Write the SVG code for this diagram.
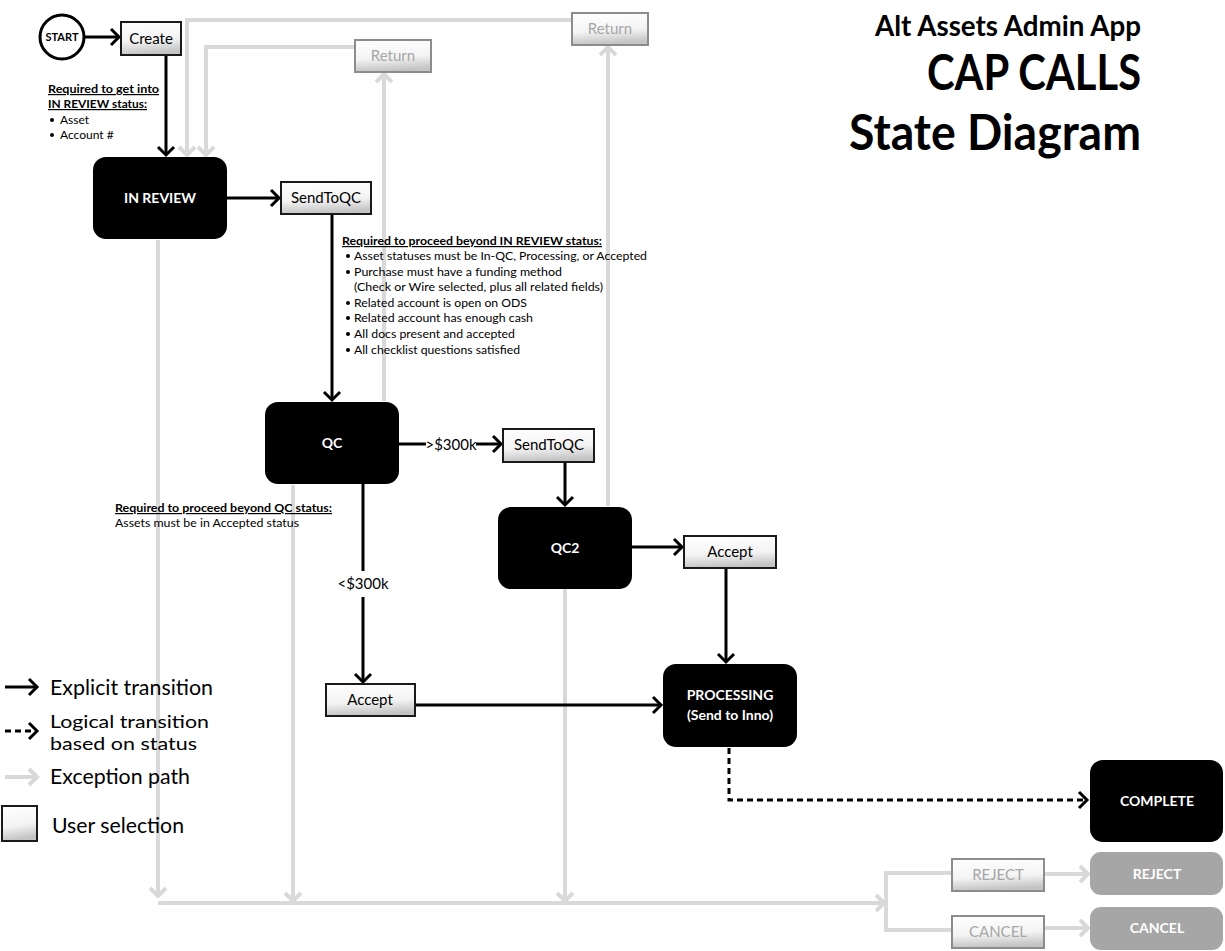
<svg xmlns="http://www.w3.org/2000/svg" width="1225" height="951" viewBox="0 0 1225 951">
<style>
text{font-family:Lato,"Open Sans","Liberation Sans",sans-serif}
.sl{fill:#fff;font-weight:bold;font-size:14px;text-anchor:middle}
.btn{fill:url(#bg);stroke:#1a1a1a;stroke-width:2}
.gbtn{fill:url(#bg);stroke:#8c8c8c;stroke-width:2}
.bt{font-size:15px;fill:#000;text-anchor:middle}
.gbt{font-size:15px;fill:#a6a6a6;text-anchor:middle}
.bk{fill:none;stroke:#000;stroke-width:3}
.gr{fill:none;stroke:#d9d9d9;stroke-width:4}
.dsh{fill:none;stroke:#000;stroke-width:3;stroke-dasharray:6 4}
.nt{font-size:12px;fill:#000}
.nh{font-size:12px;font-weight:bold;text-decoration:underline;fill:#000}
.lg{font-size:21px;fill:#000}
.lg2{font-size:18px;fill:#000}
.ttl{font-weight:bold;fill:#000;text-anchor:end}
</style>
<defs>
<linearGradient id="bg" x1="0" y1="0" x2="0.15" y2="1">
<stop offset="0" stop-color="#ffffff"/>
<stop offset="0.6" stop-color="#f4f4f4"/>
<stop offset="1" stop-color="#c4c4c4"/>
</linearGradient>
<marker id="ab" viewBox="-10 -10 14 20" refX="0" refY="0" markerWidth="14" markerHeight="20" orient="auto" markerUnits="userSpaceOnUse" overflow="visible">
<path d="M-8,-8 L0,0 L-8,8" fill="none" stroke="#000" stroke-width="3"/>
</marker>
<marker id="ag" viewBox="-10 -10 14 20" refX="0" refY="0" markerWidth="14" markerHeight="20" orient="auto" markerUnits="userSpaceOnUse" overflow="visible">
<path d="M-8,-8 L0,0 L-8,8" fill="none" stroke="#d9d9d9" stroke-width="4"/>
</marker>
</defs>
<rect width="1225" height="951" fill="#fff"/>

<g id="title">
<text class="ttl" x="1141" y="36" font-size="28" textLength="266" lengthAdjust="spacingAndGlyphs">Alt Assets Admin App</text>
<text class="ttl" x="1141" y="90" font-size="49" textLength="214" lengthAdjust="spacingAndGlyphs">CAP CALLS</text>
<text class="ttl" x="1141" y="150" font-size="49" textLength="292" lengthAdjust="spacingAndGlyphs">State Diagram</text>
</g>

<g id="connectors">
<path class="gr" d="M572,20 H187 V155" marker-end="url(#ag)"/>
<path class="gr" d="M355,47 H206 V155" marker-end="url(#ag)"/>
<path class="gr" d="M608,506 V47" marker-end="url(#ag)"/>
<path class="gr" d="M384,401 V74" marker-end="url(#ag)"/>
<path class="gr" d="M158,240 V896" marker-end="url(#ag)"/>
<path class="gr" d="M293,485 V901" marker-end="url(#ag)"/>
<path class="gr" d="M565,589 V901" marker-end="url(#ag)"/>
<path class="gr" d="M158,903 H884" marker-end="url(#ag)"/>
<path class="gr" d="M952,873 H886 V930 H952"/>
<path class="gr" d="M1044,874 H1088" marker-end="url(#ag)"/>
<path class="gr" d="M1044,928 H1088" marker-end="url(#ag)"/>
<path class="bk" d="M85,37 H119" marker-end="url(#ab)"/>
<path class="bk" d="M166,55 V155" marker-end="url(#ab)"/>
<path class="bk" d="M227,198 H279" marker-end="url(#ab)"/>
<path class="bk" d="M332,215 V400" marker-end="url(#ab)"/>
<path class="bk" d="M399,444 H426"/>
<path class="bk" d="M476,444 H501" marker-end="url(#ab)"/>
<text x="451" y="450" font-size="15" text-anchor="middle" fill="#000">&gt;$300k</text>
<path class="bk" d="M565,463 V505" marker-end="url(#ab)"/>
<path class="bk" d="M632,547 H682" marker-end="url(#ab)"/>
<path class="bk" d="M726,568 V662" marker-end="url(#ab)"/>
<path class="bk" d="M363,484 V571"/>
<text x="363" y="589" font-size="15" text-anchor="middle" fill="#000">&lt;$300k</text>
<path class="bk" d="M363,597 V682" marker-end="url(#ab)"/>
<path class="bk" d="M416,705 H661" marker-end="url(#ab)"/>
<path class="dsh" d="M729,748 V800 H1087" marker-end="url(#ab)"/>
</g>

<g id="start">
<circle cx="62" cy="37" r="22" fill="#fff" stroke="#000" stroke-width="3"/>
<text x="62" y="41" font-size="11" font-weight="bold" text-anchor="middle" fill="#000">START</text>
</g>
<g id="btn-create">
<rect class="btn" x="121" y="22" width="60" height="33"/>
<text class="bt" x="151" y="44">Create</text>
</g>
<g id="btn-return1">
<rect class="gbtn" x="572" y="13" width="76" height="32"/>
<text class="gbt" x="610" y="34">Return</text>
</g>
<g id="btn-return2">
<rect class="gbtn" x="355" y="40" width="76" height="32"/>
<text class="gbt" x="393" y="61">Return</text>
</g>
<g id="inreview">
<rect x="93" y="157" width="134" height="82" rx="13" fill="#000"/>
<text class="sl" x="160" y="203">IN REVIEW</text>
</g>
<g id="btn-sendtoqc1">
<rect class="btn" x="281" y="182" width="90" height="32"/>
<text class="bt" x="326" y="203">SendToQC</text>
</g>
<g id="qc">
<rect x="265" y="402" width="134" height="82" rx="13" fill="#000"/>
<text class="sl" x="332" y="448">QC</text>
</g>
<g id="btn-sendtoqc2">
<rect class="btn" x="503" y="429" width="91" height="33"/>
<text class="bt" x="549" y="450">SendToQC</text>
</g>
<g id="qc2">
<rect x="498" y="507" width="134" height="82" rx="13" fill="#000"/>
<text class="sl" x="565" y="553">QC2</text>
</g>
<g id="btn-accept2">
<rect class="btn" x="684" y="536" width="92" height="32"/>
<text class="bt" x="730" y="557">Accept</text>
</g>
<g id="btn-accept1">
<rect class="btn" x="326" y="684" width="89" height="32"/>
<text class="bt" x="370" y="705">Accept</text>
</g>
<g id="processing">
<rect x="663" y="664" width="134" height="83" rx="13" fill="#000"/>
<text class="sl" x="730" y="700">PROCESSING</text>
<text class="sl" x="730" y="720">(Send to Inno)</text>
</g>
<g id="complete">
<rect x="1090" y="760" width="133" height="82" rx="13" fill="#000"/>
<text class="sl" x="1157" y="806">COMPLETE</text>
</g>
<g id="btn-reject">
<rect class="gbtn" x="952" y="859" width="92" height="32"/>
<text class="gbt" x="998" y="880">REJECT</text>
</g>
<g id="btn-cancel">
<rect class="gbtn" x="952" y="916" width="92" height="32"/>
<text class="gbt" x="998" y="937">CANCEL</text>
</g>
<g id="reject">
<rect x="1090" y="852" width="133" height="43" rx="11" fill="#a6a6a6"/>
<text class="sl" x="1157" y="879">REJECT</text>
</g>
<g id="cancel">
<rect x="1090" y="907" width="133" height="43" rx="11" fill="#a6a6a6"/>
<text class="sl" x="1157" y="933">CANCEL</text>
</g>

<g id="note-create">
<text class="nh" x="48" y="93" textLength="111" lengthAdjust="spacingAndGlyphs">Required to get into</text>
<text class="nh" x="48" y="108" textLength="99" lengthAdjust="spacingAndGlyphs">IN REVIEW status:</text>
<circle cx="52" cy="120" r="2" fill="#000"/>
<text class="nt" x="60" y="124">Asset</text>
<circle cx="52" cy="135" r="2" fill="#000"/>
<text class="nt" x="60" y="139">Account #</text>
</g>
<g id="note-inreview">
<text class="nh" x="342" y="245" textLength="260" lengthAdjust="spacingAndGlyphs">Required to proceed beyond IN REVIEW status:</text>
<circle cx="348" cy="256" r="2" fill="#000"/>
<text class="nt" x="354" y="260" textLength="293" lengthAdjust="spacingAndGlyphs">Asset statuses must be In-QC, Processing, or Accepted</text>
<circle cx="348" cy="272" r="2" fill="#000"/>
<text class="nt" x="354" y="276" textLength="208" lengthAdjust="spacingAndGlyphs">Purchase must have a funding method</text>
<text class="nt" x="354" y="291" textLength="249" lengthAdjust="spacingAndGlyphs">(Check or Wire selected, plus all related fields)</text>
<circle cx="348" cy="303" r="2" fill="#000"/>
<text class="nt" x="354" y="307" textLength="173" lengthAdjust="spacingAndGlyphs">Related account is open on ODS</text>
<circle cx="348" cy="318" r="2" fill="#000"/>
<text class="nt" x="354" y="322" textLength="179" lengthAdjust="spacingAndGlyphs">Related account has enough cash</text>
<circle cx="348" cy="334" r="2" fill="#000"/>
<text class="nt" x="354" y="338" textLength="161" lengthAdjust="spacingAndGlyphs">All docs present and accepted</text>
<circle cx="348" cy="350" r="2" fill="#000"/>
<text class="nt" x="354" y="354" textLength="166" lengthAdjust="spacingAndGlyphs">All checklist questions satisfied</text>
</g>
<g id="note-qc">
<text class="nh" x="115" y="512" textLength="217" lengthAdjust="spacingAndGlyphs">Required to proceed beyond QC status:</text>
<text class="nt" x="115" y="527" textLength="184" lengthAdjust="spacingAndGlyphs">Assets must be in Accepted status</text>
</g>

<g id="legend">
<path class="bk" d="M5,687 H37" marker-end="url(#ab)"/>
<text class="lg" x="50" y="695" textLength="163" lengthAdjust="spacingAndGlyphs">Explicit transition</text>
<path class="dsh" d="M5,731 H37" marker-end="url(#ab)"/>
<text class="lg2" x="50" y="728" textLength="159" lengthAdjust="spacingAndGlyphs">Logical transition</text>
<text class="lg2" x="50" y="750" textLength="147" lengthAdjust="spacingAndGlyphs">based on status</text>
<path class="gr" d="M5,777 H37" marker-end="url(#ag)"/>
<text class="lg" x="50" y="784" textLength="140" lengthAdjust="spacingAndGlyphs">Exception path</text>
<rect class="btn" x="2" y="806" width="35" height="35"/>
<text class="lg" x="52" y="833" textLength="132" lengthAdjust="spacingAndGlyphs">User selection</text>
</g>
</svg>
